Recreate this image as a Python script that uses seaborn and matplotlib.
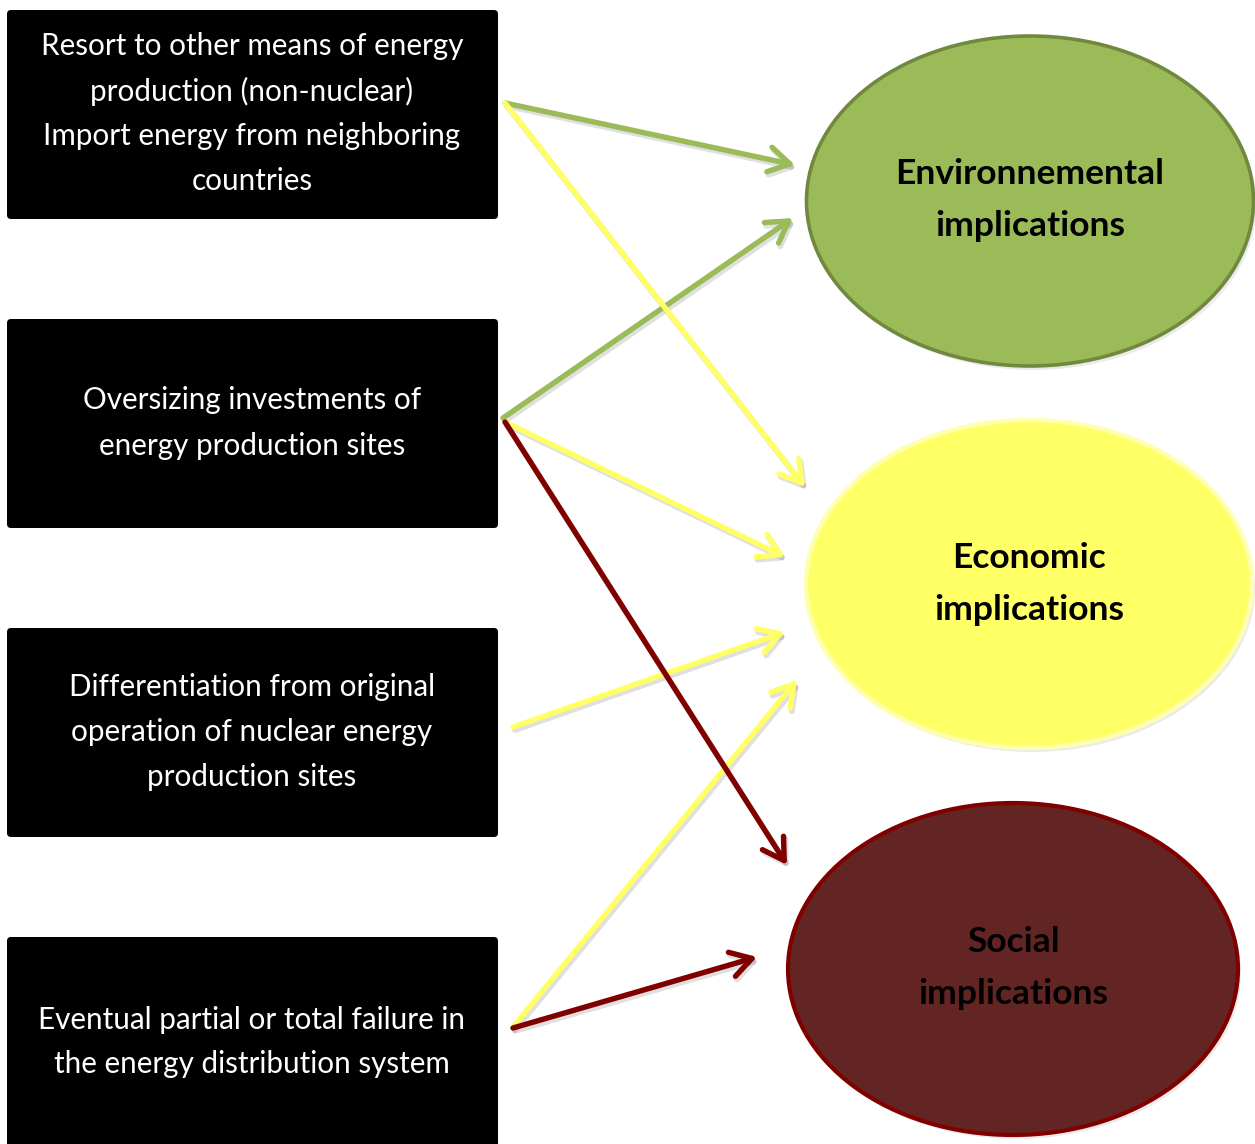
import matplotlib
matplotlib.use("Agg")
import matplotlib.pyplot as plt
import seaborn as sns
from matplotlib.patches import FancyBboxPatch, Ellipse, FancyArrowPatch

sns.set_theme(style="white")
plt.rcParams["font.family"] = ["Lato", "DejaVu Sans"]

# ---- content ----
causes = [
    ["Resort to other means of energy", "production (non-nuclear)",
     "Import energy from neighboring", "countries"],
    ["Oversizing investments of", "energy production sites"],
    ["Differentiation from original", "operation of nuclear energy",
     "production sites"],
    ["Eventual partial or total failure in", "the energy distribution system"],
]
implications = [["Environnemental", "implications"],
                ["Economic", "implications"],
                ["Social", "implications"]]
# links: (cause index, implication index)
links = [(0, 0), (1, 0), (0, 1), (1, 1), (2, 1), (3, 1), (1, 2), (3, 2)]

# ---- layout (pixel coordinates) ----
box_x0, box_x1 = 7, 498
box_y = [(10, 219), (319, 528), (628, 837), (937, 1160)]
box_text_cy = [114, 423, 732, 1042]
box_text_cx = 252
ell_center = [(1030, 201), (1029, 584), (1013, 969)]
ell_size = [(447, 330), (446, 328), (450, 332)]
ell_text_cy = [200, 584, 968]
ell_fill = ["#9BBB59", "#FFFF66", "#632523"]
ell_edge = ["#71893F", "#FFFFB0", "#800000"]
ell_lw = [2.6, 3.2, 3.0]
arrow_color = {0: "#9BBB59", 1: "#FFFF66", 2: "#800000"}
arrow_pts = {
    (0, 0): ((505, 103), (795, 165)),
    (1, 0): ((503, 418), (793, 218)),
    (0, 1): ((505, 103), (805, 487)),
    (1, 1): ((505, 422), (785, 557)),
    (2, 1): ((513, 727), (785, 632)),
    (3, 1): ((513, 1027), (797, 680)),
    (1, 2): ((505, 422), (787, 865)),
    (3, 2): ((513, 1028), (757, 957)),
}

fig = plt.figure(figsize=(12.55, 11.44), dpi=100)
ax = fig.add_axes([0, 0, 1, 1])
ax.set_xlim(0, 1255)
ax.set_ylim(1144, 0)
ax.axis("off")

# boxes
for i, lines in enumerate(causes):
    y0, y1 = box_y[i]
    ax.add_patch(FancyBboxPatch((box_x0, y0), box_x1 - box_x0, y1 - y0,
                                boxstyle="round,pad=0,rounding_size=4",
                                fc="black", ec="black", lw=0, zorder=2))
    n = len(lines)
    sp = 45
    for k, ln in enumerate(lines):
        yy = box_text_cy[i] + (k - (n - 1) / 2) * sp
        ax.text(box_text_cx, yy, ln, color="white", fontsize=21.3,
                ha="center", va="center", zorder=3)

# ellipses
for j, lines in enumerate(implications):
    cx, cy = ell_center[j]
    w, h = ell_size[j]
    ax.add_patch(Ellipse((cx + 3, cy + 4), w, h, fc="#000000", alpha=0.08,
                         lw=0, zorder=1))
    ax.add_patch(Ellipse((cx, cy), w, h, fc=ell_fill[j], ec=ell_edge[j],
                         lw=ell_lw[j], zorder=2))
    n = len(lines)
    for k, ln in enumerate(lines):
        yy = ell_text_cy[j] + (k - (n - 1) / 2) * 52
        ax.text(cx, yy, ln, color="black", fontsize=25.5, fontweight="bold",
                ha="center", va="center", zorder=3)

# arrows
style = "->,head_length=0.75,head_width=0.45"
for (src, dst) in links:
    p0, p1 = arrow_pts[(src, dst)]
    sh = FancyArrowPatch((p0[0] + 2, p0[1] + 3), (p1[0] + 2, p1[1] + 3),
                         arrowstyle=style, mutation_scale=20, lw=4.2,
                         color="#000000", alpha=0.12, shrinkA=0, shrinkB=0,
                         zorder=3)
    ax.add_patch(sh)
    ar = FancyArrowPatch(p0, p1, arrowstyle=style, mutation_scale=20, lw=3.9,
                         color=arrow_color[dst], shrinkA=0, shrinkB=0,
                         capstyle="round", joinstyle="round", zorder=4)
    ax.add_patch(ar)

fig.savefig("out.png", dpi=100, facecolor="white")
